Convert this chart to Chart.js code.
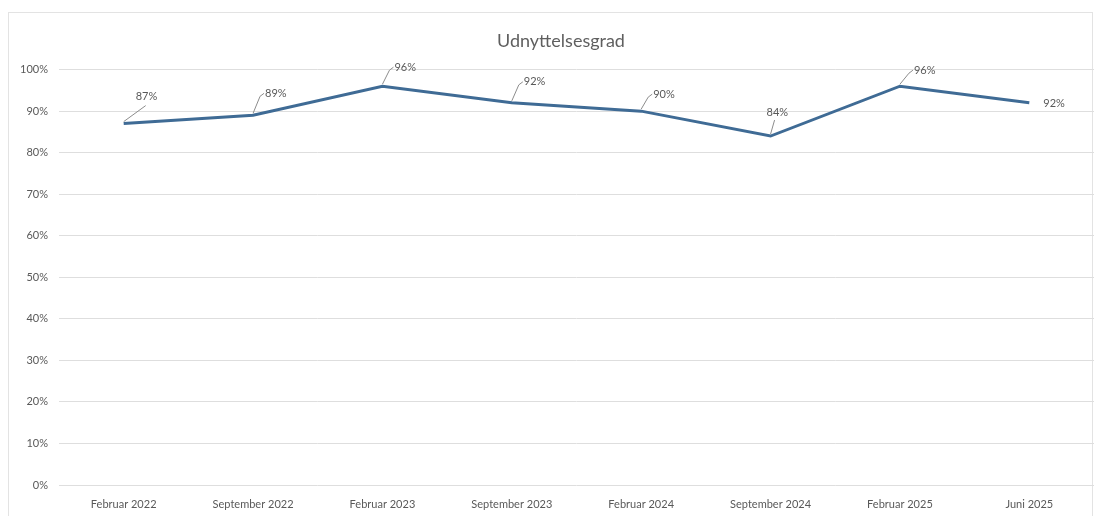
<!DOCTYPE html>
<html lang="da">
<head>
<meta charset="UTF-8">
<title>Udnyttelsesgrad</title>
<script src="https://cdn.jsdelivr.net/npm/chart.js"></script>
<style>
    html, body { margin: 0; padding: 0; background: #fff; }
    body { width: 1100px; height: 516px; position: relative; overflow: hidden; }
    .frame {
        position: absolute; left: 8px; top: 12px; width: 1085px; height: 520px;
        border: 1px solid #e3e3e3; box-sizing: border-box;
    }
    .wrap { position: absolute; left: 0; top: 0; width: 1100px; height: 516px; }
</style>
</head>
<body>
<div class="frame"></div>
<div class="wrap"><canvas id="chart" width="1100" height="516"></canvas></div>
<script>
const periods = ['Februar 2022', 'September 2022', 'Februar 2023', 'September 2023',
                 'Februar 2024', 'September 2024', 'Februar 2025', 'Juni 2025'];
const utilisation = [87, 89, 96, 92, 90, 84, 96, 92];
const yTicks = [0, 10, 20, 30, 40, 50, 60, 70, 80, 90, 100];

// where each label sits relative to its point (style only), and whether it gets a leader line
const labelOffsets = [[12, -27, true], [12, -22, true], [12, -19, true], [12, -21, true],
                      [12, -17, true], [-4, -24, true], [14, -16, true], [14, 1, false]];

const dataLabels = {
    id: 'dataLabels',
    afterLayout(chart) {
        // the title in the original sits a little right of the canvas middle
        const t = chart.titleBlock;
        if (t) { t.left = 28; t.width = t.right - t.left; }
    },
    afterDatasetsDraw(chart) {
        const ctx = chart.ctx;
        const meta = chart.getDatasetMeta(0);
        ctx.save();
        ctx.font = '11px Lato, "Open Sans", sans-serif';
        ctx.fillStyle = '#595959';
        ctx.strokeStyle = '#8c8c8c';
        ctx.lineWidth = 1;
        ctx.textBaseline = 'middle';
        meta.data.forEach((pt, i) => {
            const [dx, dy, leader] = labelOffsets[i];
            const tx = pt.x + dx, ty = pt.y + dy;
            if (leader) {
                ctx.beginPath();
                ctx.moveTo(pt.x, pt.y - 2);
                if (i === 0) {
                    ctx.lineTo(tx + 10, ty + 9);
                } else if (dx > 0) {
                    ctx.lineTo(tx - 5, ty + 3);
                    ctx.lineTo(tx - 1, ty);
                } else {
                    ctx.lineTo(pt.x + 4, ty + 8);
                }
                ctx.stroke();
            }
            ctx.textAlign = 'left';
            ctx.fillText(utilisation[i] + '%', tx, ty);
        });
        ctx.restore();
    }
};

new Chart(document.getElementById('chart'), {
    type: 'line',
    data: {
        labels: periods,
        datasets: [{
            data: utilisation,
            borderColor: '#3f6b95',
            borderWidth: 3,
            pointRadius: 0,
            tension: 0,
            fill: false
        }]
    },
    options: {
        responsive: false,
        animation: false,
        devicePixelRatio: 1,
        layout: { padding: { left: 8, right: 6, top: 30, bottom: 0 } },
        plugins: {
            legend: { display: false },
            tooltip: { enabled: false },
            title: {
                display: true,
                text: 'Udnyttelsesgrad',
                color: '#5f5f5f',
                font: { family: 'Lato, "Open Sans", sans-serif', size: 18, weight: 'normal' },
                padding: { top: 0, bottom: 18 }
            }
        },
        scales: {
            x: {
                offset: true,
                grid: { display: false },
                border: { display: false },
                afterFit: axis => { axis.height = 31; },
                ticks: {
                    color: '#595959', padding: 5, maxRotation: 0, autoSkip: false,
                    font: { family: 'Lato, "Open Sans", sans-serif', size: 11 }
                }
            },
            y: {
                min: 0, max: 100,
                afterBuildTicks: axis => { axis.ticks = yTicks.map(v => ({ value: v })); },
                afterFit: axis => { axis.width = 51; },
                grid: { color: '#dedede', drawTicks: false },
                border: { display: false },
                ticks: {
                    color: '#595959', padding: 11,
                    font: { family: 'Lato, "Open Sans", sans-serif', size: 11 },
                    callback: v => v + '%'
                }
            }
        }
    },
    plugins: [dataLabels]
});
</script>
</body>
</html>
